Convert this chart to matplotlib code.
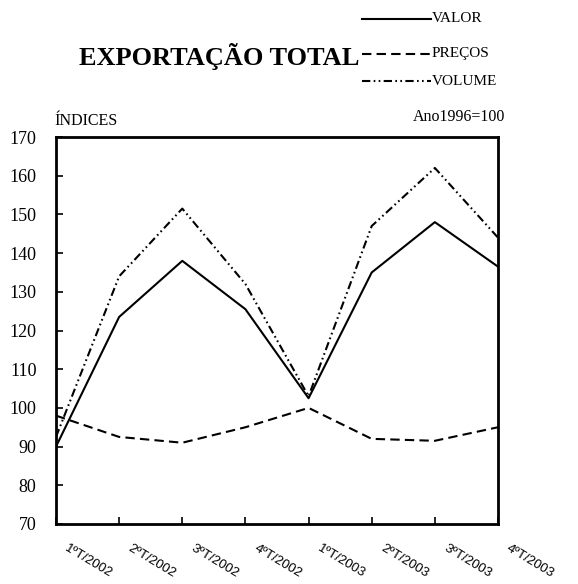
import matplotlib
matplotlib.use("Agg")
import matplotlib.pyplot as plt
from matplotlib.lines import Line2D

categories = ["1ºT/2002", "2ºT/2002", "3ºT/2002", "4ºT/2002",
              "1ºT/2003", "2ºT/2003", "3ºT/2003", "4ºT/2003"]
valor = [90, 123.5, 138, 125.5, 102.5, 135, 148, 136.5]
precos = [98, 92.5, 91, 95, 100, 92, 91.5, 95]
volume = [92.5, 134, 151.5, 132, 103, 147, 162, 144]
yticks = [70, 80, 90, 100, 110, 120, 130, 140, 150, 160, 170]

plt.rcParams['font.family'] = ['Liberation Serif', 'DejaVu Serif']

fig = plt.figure(figsize=(5.78, 5.84), dpi=100)
W, H = 578, 584
ax = fig.add_axes([56 / W, 1 - 524 / H, (498 - 56) / W, (524 - 137) / H])

x = list(range(len(categories)))
ls_dash = (0, (4.5, 2.5))
ls_dd = (0, (4, 1.6, 0.8, 1.6, 0.8, 1.6))
ax.plot(x, valor, color='black', lw=1.5, linestyle='-')
ax.plot(x, precos, color='black', lw=1.5, linestyle=ls_dash)
ax.plot(x, volume, color='black', lw=1.5, linestyle=ls_dd)

ax.set_xlim(0, len(categories) - 1)
ax.set_ylim(70, 170)
ax.set_yticks(yticks)
ax.set_yticklabels([str(v) for v in yticks], fontsize=13)
ax.set_xticks(x)
ax.set_xticklabels([])
ax.tick_params(axis='both', direction='in', length=5, width=1.2, color='black')
ax.tick_params(axis='y', pad=14)
for s in ax.spines.values():
    s.set_linewidth(2)
    s.set_color('black')

# rotated x labels
for i, c in enumerate(categories):
    ax.annotate(c, xy=(i, 70), xycoords='data', xytext=(7, -17), textcoords='offset points',
                rotation=-31, rotation_mode='anchor', ha='left', va='center',
                fontsize=9.5, family=['Liberation Sans', 'DejaVu Sans'], annotation_clip=False)

fig.text(219 / W, 1 - 56 / H, "EXPORTAÇÃO TOTAL", ha='center', va='center',
         fontsize=19, fontweight='bold')
fig.text(54 / W, 1 - 121 / H, "ÍNDICES", ha='left', va='center', fontsize=11.5)
fig.text(505 / W, 1 - 117 / H, "Ano1996=100", ha='right', va='center', fontsize=11.5)

# legend
legend_items = [("VALOR", '-', 19), ("PREÇOS", ls_dash, 54), ("VOLUME", ls_dd, 81)]
for label, ls, yy in legend_items:
    fig.add_artist(Line2D([362 / W, 431 / W], [1 - yy / H, 1 - yy / H],
                          transform=fig.transFigure, color='black', lw=1.5, linestyle=ls))
    fig.text(432 / W, 1 - yy / H, label, ha='left', va='center', fontsize=11)

fig.savefig("out.png", dpi=100)
